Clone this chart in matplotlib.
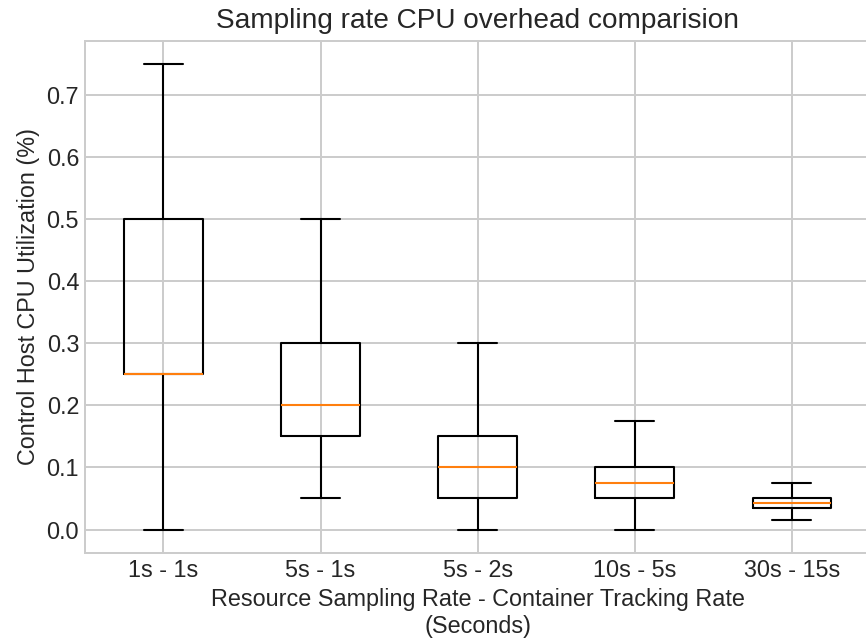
import matplotlib
matplotlib.use("Agg")
import matplotlib.pyplot as plt

# Sampling configurations (resource sampling rate - container tracking rate)
labels = ["1s - 1s", "5s - 1s", "5s - 2s", "10s - 5s", "30s - 15s"]

# Box statistics of control host CPU utilization (%)
whisker_low = [0.0, 0.05, 0.0, 0.0, 0.016]
q1 = [0.25, 0.15, 0.05, 0.05, 0.035]
medians = [0.25, 0.2, 0.1, 0.075, 0.042]
q3 = [0.5, 0.3, 0.15, 0.1, 0.05]
whisker_high = [0.75, 0.5, 0.3, 0.175, 0.075]

plt.style.use("seaborn-v0_8-whitegrid")
plt.rcParams["font.family"] = ["Liberation Sans", "DejaVu Sans"]
plt.rcParams["grid.linewidth"] = 1.2

stats = []
for i, name in enumerate(labels):
    stats.append({
        "label": name,
        "whislo": whisker_low[i],
        "q1": q1[i],
        "med": medians[i],
        "q3": q3[i],
        "whishi": whisker_high[i],
        "fliers": [],
    })

dpi = 120
fig, ax = plt.subplots(figsize=(866 / dpi, 642 / dpi), dpi=dpi)
fig.subplots_adjust(left=0.098, right=1.005, top=0.936, bottom=0.139)

lw = 1.25
ax.bxp(stats, showfliers=False,
       boxprops=dict(linewidth=lw, color="black"),
       whiskerprops=dict(linewidth=lw, color="black"),
       capprops=dict(linewidth=lw, color="black"),
       medianprops=dict(linewidth=lw, color="#ff7f0e"))

ax.set_title("Sampling rate CPU overhead comparision", fontsize=16.8, pad=8)
ax.set_xlabel("Resource Sampling Rate - Container Tracking Rate\n(Seconds)", fontsize=14)
ax.set_ylabel("Control Host CPU Utilization (%)", fontsize=14)
ax.tick_params(labelsize=14)
for spine in ax.spines.values():
    spine.set_visible(True)
    spine.set_color("#cccccc")
    spine.set_linewidth(1.2)

fig.savefig("out.png", dpi=dpi)
